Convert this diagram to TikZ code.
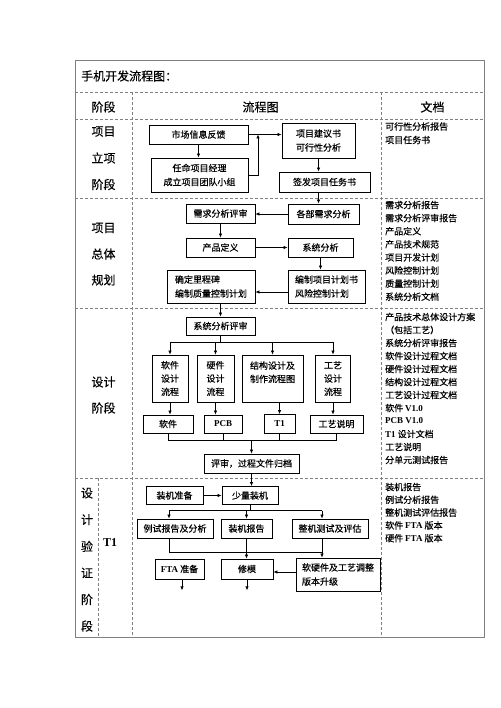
\documentclass[tikz,border=0pt]{standalone}
\usepackage{fontspec}
\setmainfont{Noto Sans CJK SC}[FakeBold=0.4]
\newfontfamily\tnrfont{Liberation Serif}
\newcommand\tnr[1]{{\tnrfont\bfseries #1}}
\usetikzlibrary{arrows.meta}
\begin{document}
\begin{tikzpicture}[x=1pt,y=-1pt,
  box/.style={draw,line width=0.8pt,inner sep=0pt,align=center,font=\fontsize{9}{14}\selectfont},
  tab/.style={draw=black!50,line width=0.7pt,dash pattern=on 3pt off 2pt},
  arr/.style={-{Latex[length=4pt,width=3.5pt]},line width=0.7pt},
  lnk/.style={line width=0.7pt},
  doc/.style={anchor=west,inner sep=0pt,font=\fontsize{9}{11}\selectfont},
  stage/.style={inner sep=0pt,font=\fontsize{12}{14}\selectfont}]
\useasboundingbox (0,0) rectangle (500,708);
\draw[black!50,line width=0.9pt] (75,60) rectangle (484,637);
\foreach \y in {92,119,198,308,478}
  \draw[tab] (75,\y) -- (484,\y);
\draw[tab] (132,92) -- (132,637) (381,92) -- (381,637) (98,478) -- (98,637);

\node[stage,anchor=west] (title) at (81,76) {手机开发流程图：};
\node[stage] (hstage) at (103.5,107) {阶段};
\node[stage] (hflow) at (260.5,107) {流程图};
\node[stage] (hdoc) at (432.5,107) {文档};

\foreach \t [count=\i] in {项目,立项,阶段}
  \node[stage] (sa-\i) at (103.5,{105+26.5*\i}) {\t};
\foreach \t [count=\i] in {项目,总体,规划}
  \node[stage] (sb-\i) at (103.5,{202+26*\i}) {\t};
\foreach \t [count=\i] in {设计,阶段}
  \node[stage] (sc-\i) at (103.5,{356+26*\i}) {\t};
\foreach \t [count=\i] in {设,计,验,证,阶,段}
  \node[stage] (sd-\i) at (87,{466.5+26.6*\i}) {\t};
\node[stage] (sdt) at (110,543) {\tnr{T1}};

\foreach \t [count=\i] in {可行性分析报告,项目任务书}
  \node[doc] (da-\i) at (385,{113+13.5*\i}) {\t};
\foreach \t [count=\i] in {需求分析报告,需求分析评审报告,产品定义,产品技术规范,项目开发计划,风险控制计划,质量控制计划,系统分析文档}
  \node[doc] (db-\i) at (385,{191.9+13.1*\i}) {\t};
\foreach \t [count=\i] in {产品技术总体设计方案,（包括工艺）,系统分析评审报告,软件设计过程文档,硬件设计过程文档,结构设计过程文档,工艺设计过程文档,{软件 \tnr{V1.0}},{\tnr{PCB V1.0}},{\tnr{T1} 设计文档},工艺说明,分单元测试报告}
  \node[doc] (dc-\i) at (385,{304+13*\i}) {\t};
\foreach \t [count=\i] in {装机报告,例试分析报告,整机测试评估报告,{软件 \tnr{FTA} 版本},{硬件 \tnr{FTA} 版本}}
  \node[doc] (dd-\i) at (385,{474.2+12.8*\i}) {\t};

\node[box,minimum width=99,minimum height=19] (mkt) at (198.5,134.5) {市场信息反馈};
\node[box,minimum width=97,minimum height=34] (pm) at (199.5,175) {任命项目经理\\成立项目团队小组};
\node[box,minimum width=73,minimum height=35] (prop) at (318.5,140.5) {项目建议书\\可行性分析};
\node[box,minimum width=91,minimum height=20] (task) at (324.5,182) {签发项目任务书};
\coordinate (up1) at (258,134.5);

\node[box,minimum width=69,minimum height=19] (rev) at (220.5,213.5) {需求分析评审};
\node[box,minimum width=71,minimum height=20] (dept) at (323.5,214) {各部需求分析};
\node[box,minimum width=69,minimum height=19] (pdef) at (220.5,247.5) {产品定义};
\node[box,minimum width=65,minimum height=19] (sys) at (320.5,247.5) {系统分析};
\node[box,minimum width=88,minimum height=33,align=left] (mile) at (211,286.5) {确定里程碑\\编制质量控制计划};
\node[box,minimum width=77,minimum height=33,align=left] (plan) at (326.5,286.5) {编制项目计划书\\风险控制计划};

\node[box,minimum width=69,minimum height=18] (srev) at (220.5,326) {系统分析评审};
\node[box,minimum width=36,minimum height=47,font=\fontsize{9}{13.3}\selectfont] (sw) at (170,378.5) {软件\\设计\\流程};
\node[box,minimum width=37,minimum height=47,font=\fontsize{9}{13.3}\selectfont] (hw) at (215.5,378.5) {硬件\\设计\\流程};
\node[box,minimum width=61,minimum height=47,font=\fontsize{9}{13.3}\selectfont] (mech) at (272.5,378.5) {结构设计及\\制作流程图\\\mbox{}};
\node[box,minimum width=35,minimum height=47,font=\fontsize{9}{13.3}\selectfont] (proc) at (333,378.5) {工艺\\设计\\流程};
\node[box,minimum width=50,minimum height=18] (swo) at (168,424) {软件};
\node[box,minimum width=38,minimum height=18] (pcb) at (223,424) {\tnr{PCB}};
\node[box,minimum width=31,minimum height=19] (t1) at (279.5,424) {\tnr{T1}};
\node[box,minimum width=53,minimum height=18] (pdoc) at (336.5,424) {工艺说明};
\node[box,minimum width=95,minimum height=19] (arch) at (251.5,463.5) {评审，过程文件归档};
\coordinate (s1) at (0,342);
\coordinate (m1) at (0,440);

\node[box,minimum width=57,minimum height=18] (prep) at (174.5,495.5) {装机准备};
\node[box,minimum width=56,minimum height=18] (few) at (250,495.5) {少量装机};
\node[box,minimum width=76,minimum height=19] (rpt) at (175,528.5) {例试报告及分析};
\node[box,minimum width=51,minimum height=19] (asm) at (246.5,528.5) {装机报告};
\node[box,minimum width=76,minimum height=19] (test) at (330,528.5) {整机测试及评估};
\node[box,minimum width=49,minimum height=20] (fta) at (179.5,569) {\tnr{FTA} 准备};
\node[box,minimum width=52,minimum height=20] (fix) at (247,569) {修模};
\node[box,minimum width=84,minimum height=33,align=left] (soft) at (338,574.5) {软硬件及工艺调整\\版本升级};
\coordinate (s2) at (0,510.5);
\coordinate (m2) at (0,552);

\draw[arr] (mkt.south) -- (mkt.south |- pm.north);
\draw[arr] (mkt.east) -- (mkt.east -| prop.west);
\draw[arr] (pm.east) -| (up1);
\draw[arr] (prop.south) -- (prop.south |- task.north);
\draw[arr] (prop.south |- task.south) -- (prop.south |- dept.north);

\draw[arr] (dept.west) -- (dept.west -| rev.east);
\draw[arr] (rev) -- (pdef);
\draw[arr] (pdef) -- (sys);
\draw[arr] (sys.south) -- (sys.south |- plan.north);
\draw[arr] ([yshift=-5.5pt]plan.west) -- ([yshift=-5.5pt]mile.east);
\draw[arr] (srev.north |- mile.south) -- (srev.north);

\draw[lnk] (srev.south) -- (srev.south |- s1) (sw.north |- s1) -- (proc.north |- s1);
\foreach \b in {sw,hw,mech,proc}
  \draw[arr] (\b.north |- s1) -- (\b.north);
\draw[arr] (sw.south) -- (sw.south |- swo.north);
\draw[arr] (hw.south) -- (hw.south |- pcb.north);
\draw[arr] (t1.north |- mech.south) -- (t1.north);
\draw[arr] (proc.south) -- (proc.south |- pdoc.north);
\foreach \b in {swo,pcb,t1,pdoc}
  \draw[lnk] (\b.south) -- (\b.south |- m1);
\draw[lnk] (swo.south |- m1) -- (pdoc.south |- m1);
\draw[arr] (arch.north |- m1) -- (arch.north);
\draw[arr] (arch.south) -- (arch.south |- few.north);

\draw[arr] (prep) -- (few);
\draw[lnk] (few.south) -- (few.south |- s2) ([xshift=-6pt]rpt.north |- s2) -- ([xshift=-8pt]test.north |- s2);
\draw[arr] ([xshift=-6pt]rpt.north |- s2) -- ([xshift=-6pt]rpt.north);
\draw[arr] (asm.north |- s2) -- (asm.north);
\draw[arr] ([xshift=-8pt]test.north |- s2) -- ([xshift=-8pt]test.north);
\draw[lnk] ([xshift=-6pt]rpt.south) |- ([xshift=-8pt]test.south |- m2);
\draw[arr] (asm.south) -- (asm.south |- fix.north);
\draw[arr] ([xshift=-8pt]test.south) -- ([xshift=-8pt]test.south |- soft.north);
\draw[arr] ([yshift=-3pt]soft.west |- fix.east) -- ([yshift=-3pt]fix.east);
\draw[arr] ([xshift=2.5pt]fta.south) -- ++(0,11);
\draw[arr] (fix.south) -- ++(0,11);
\end{tikzpicture}
\end{document}
